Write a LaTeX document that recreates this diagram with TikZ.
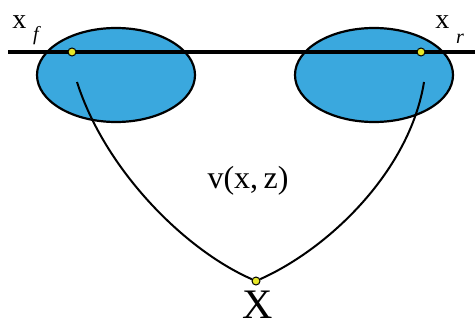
\documentclass[tikz,border=0pt]{standalone}
\usepackage{fontspec}
\setmainfont{Liberation Serif}
\usepackage{tikz}
\usetikzlibrary{shapes,calc,positioning}
\definecolor{lensblue}{RGB}{58,168,222}
\definecolor{dotyellow}{RGB}{232,232,40}

\begin{document}
\begin{tikzpicture}[x=0.5pt,y=-0.5pt,
    lens/.style={draw, ellipse, fill=lensblue, line width=1.1pt, minimum width=79pt, minimum height=47pt, inner sep=0pt},
    dot/.style={circle, draw, fill=dotyellow, inner sep=0pt, minimum size=4pt, line width=0.5pt},
    lbl/.style={inner sep=0pt}]
              \useasboundingbox (0,0) rectangle (475,326);

              % Draw the two ellipses
              \node[lens] (FE) at (116,75) {};
              \node[lens] (RE) at (374,75) {};

              % Draw the line through both
              \coordinate (LL) at (8,52);
              \coordinate (LR) at (475,52);
              \draw[line width=2pt] (LL) -- (LR);

              % Draw the two rays down to X
              \node[dot] (X) at (256,281) {};
              \coordinate (FS) at (77,82);
              \coordinate (RS) at (424,82);
              \draw[line width=1pt] (FS) .. controls (105,170) and (185,250) .. (X);
              \draw[line width=1pt] (RS) .. controls (410,170) and (330,248) .. (X);

              % Draw the dots on the line
              \node[dot] (XF) at (72,52) {};
              \node[dot] (XR) at (421,52) {};

              % Labels
              \node[lbl, anchor=base west] (XFl) at (12,29) {\fontsize{14}{16}\selectfont x\raisebox{-0.9ex}{\fontsize{10}{11}\selectfont\,\,\textit{f}}};
              \node[lbl, anchor=base west] (XRl) at (435,29) {\fontsize{14}{16}\selectfont x\raisebox{-1.1ex}{\fontsize{10}{11}\selectfont\,\,\textit{r}}};
              \node[lbl] (V) at (248,181) {\fontsize{16}{18}\selectfont v(x,\,z)};
              \node[lbl, anchor=base] (Xl) at (258,318) {\fontsize{21}{23}\selectfont X};
          \end{tikzpicture}
\end{document}
